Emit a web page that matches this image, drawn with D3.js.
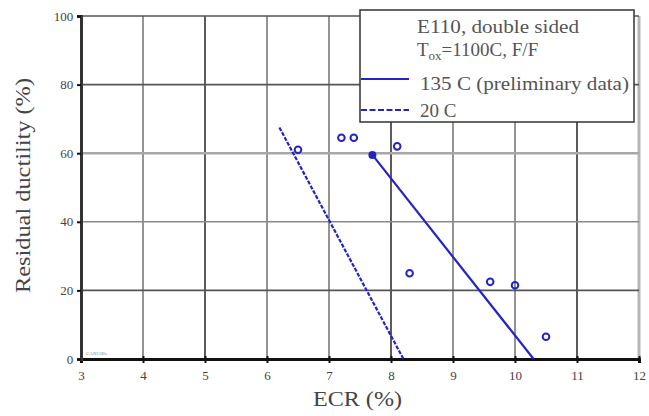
<!DOCTYPE html>
<html>
<head>
<meta charset="utf-8">
<title></title>
<script src="https://d3js.org/d3.v7.min.js"></script>
<style>
  body { margin: 0; background: #fff; }
  svg { display: block; }
  svg text { font-family: "Liberation Serif", "DejaVu Serif", serif; }
</style>
</head>
<body>
<script>
// ECR (%) vs residual ductility (%)
var xTicks = [3, 4, 5, 6, 7, 8, 9, 10, 11, 12]
var yTicks = [0, 20, 40, 60, 80, 100]

// measured points (open circles)
var ecrPts = [6.5, 7.2, 7.4, 8.1, 8.3, 9.6, 10.0, 10.5]
var ducPts = [61, 64.5, 64.5, 62, 25, 22.5, 21.5, 6.5]

// 135 C fit line (solid), start point is a filled dot
var fit135x = [7.7, 10.3]
var fit135y = [59.5, 0]

// 20 C fit line (dashed)
var fit20x = [6.2, 8.2]
var fit20y = [67.5, 0]

var W = 649, H = 416

var svg = d3.select("body").append("svg")
    .attr("width", W).attr("height", H)

var x = d3.scaleLinear().domain([3, 12]).range([81, 639])
var y = d3.scaleLinear().domain([0, 100]).range([359, 16])

var blue = "#2323c8"
var txt = "#444"

// grid
var grid = svg.append("g")
grid.selectAll("line.v")
    .data(xTicks.slice(1))
    .enter().append("line")
    .attr("x1", d => x(d)).attr("x2", d => x(d))
    .attr("y1", y(100)).attr("y2", y(0))
    .attr("stroke", d => d == 12 ? "#b5b5b5" : (d % 3 == 2 ? "#333" : "#7a7a7a"))
    .attr("stroke-width", d => d == 12 ? 3 : 1.6)
grid.selectAll("line.h")
    .data(yTicks.slice(1))
    .enter().append("line")
    .attr("x1", x(3)).attr("x2", x(12))
    .attr("y1", d => y(d)).attr("y2", d => y(d))
    .attr("stroke", d => d == 60 ? "#a8a8a8" : (d == 40 ? "#8a8a8a" : "#555"))
    .attr("stroke-width", d => d == 60 ? 2.5 : 1.6)

// axes
var xAxis = d3.axisBottom(x).tickValues(xTicks).tickSize(4).tickFormat(d3.format("d"))
var gx = svg.append("g")
    .attr("transform", "translate(0," + y(0) + ")")
    .call(xAxis)
    .attr("font-family", null).attr("font-size", 13)
gx.select(".domain").attr("stroke", "#111").attr("stroke-width", 3)
gx.selectAll(".tick line").attr("stroke", "#111").attr("stroke-width", 2).attr("y1", -3)
gx.selectAll(".tick text").attr("fill", txt).attr("dy", "1.05em")

var yAxis = d3.axisLeft(y).tickValues(yTicks).tickSize(4)
var gy = svg.append("g")
    .attr("transform", "translate(" + x(3) + ",0)")
    .call(yAxis)
    .attr("font-family", null).attr("font-size", 13)
gy.select(".domain").attr("stroke", "#333").attr("stroke-width", 3)
gy.selectAll(".tick line").attr("stroke", "#111").attr("stroke-width", 2)
gy.selectAll(".tick text").attr("fill", txt).attr("dx", "-0.05em")

// axis titles
svg.append("text")
    .attr("x", 313).attr("y", 406)
    .attr("font-size", 20).attr("fill", txt)
    .attr("textLength", 89).attr("lengthAdjust", "spacingAndGlyphs")
    .text("ECR (%)")
svg.append("text")
    .attr("transform", "translate(30,186) rotate(-90)")
    .attr("x", -107)
    .attr("font-size", 20).attr("fill", txt)
    .attr("textLength", 215).attr("lengthAdjust", "spacingAndGlyphs")
    .text("Residual ductility (%)")

// tiny tag in corner
svg.append("text")
    .attr("x", x(3) + 5).attr("y", y(0) - 4)
    .attr("font-size", 5).attr("fill", "#888")
    .text("CAN13Bs")

// fit lines
var line = d3.line().x(d => x(d[0])).y(d => y(d[1]))
svg.append("path")
    .attr("d", line(d3.zip(fit135x, fit135y)))
    .attr("fill", "none").attr("stroke", blue).attr("stroke-width", 2.2)
svg.append("path")
    .attr("d", line(d3.zip(fit20x, fit20y)))
    .attr("fill", "none").attr("stroke", blue).attr("stroke-width", 2.2)
    .attr("stroke-dasharray", "4,1.5")

svg.append("circle")
    .attr("cx", x(fit135x[0])).attr("cy", y(fit135y[0]))
    .attr("r", 4).attr("fill", blue)

// points
svg.append("g").selectAll("circle")
    .data(d3.zip(ecrPts, ducPts))
    .enter().append("circle")
    .attr("cx", d => x(d[0])).attr("cy", d => y(d[1]))
    .attr("r", 3.3)
    .attr("fill", "none").attr("stroke", blue).attr("stroke-width", 2)

// legend
var lg = svg.append("g").attr("transform", "translate(360,10)")
lg.append("rect")
    .attr("width", 274).attr("height", 112)
    .attr("fill", "#fff").attr("stroke", "#333").attr("stroke-width", 1.5)
lg.append("text").attr("x", 57).attr("y", 23)
    .attr("font-size", 19).attr("fill", "#555")
    .attr("textLength", 162).attr("lengthAdjust", "spacingAndGlyphs")
    .text("E110, double sided")
var t2 = lg.append("text").attr("x", 57).attr("y", 46)
    .attr("font-size", 19).attr("fill", "#555")
t2.append("tspan").text("T")
t2.append("tspan").attr("font-size", 13).attr("dy", 4).text("ox")
t2.append("tspan").attr("dy", -4).text("=1100C, F/F")
lg.append("line").attr("x1", 1).attr("x2", 49).attr("y1", 69).attr("y2", 69)
    .attr("stroke", blue).attr("stroke-width", 2.2)
lg.append("text").attr("x", 60).attr("y", 80)
    .attr("font-size", 19).attr("fill", "#555")
    .attr("textLength", 209).attr("lengthAdjust", "spacingAndGlyphs")
    .text("135 C (preliminary data)")
lg.append("line").attr("x1", 1).attr("x2", 49).attr("y1", 100).attr("y2", 100)
    .attr("stroke", blue).attr("stroke-width", 2.2).attr("stroke-dasharray", "6,2.5")
lg.append("text").attr("x", 60).attr("y", 107)
    .attr("font-size", 19).attr("fill", "#555")
    .text("20 C")
</script>
</body>
</html>
